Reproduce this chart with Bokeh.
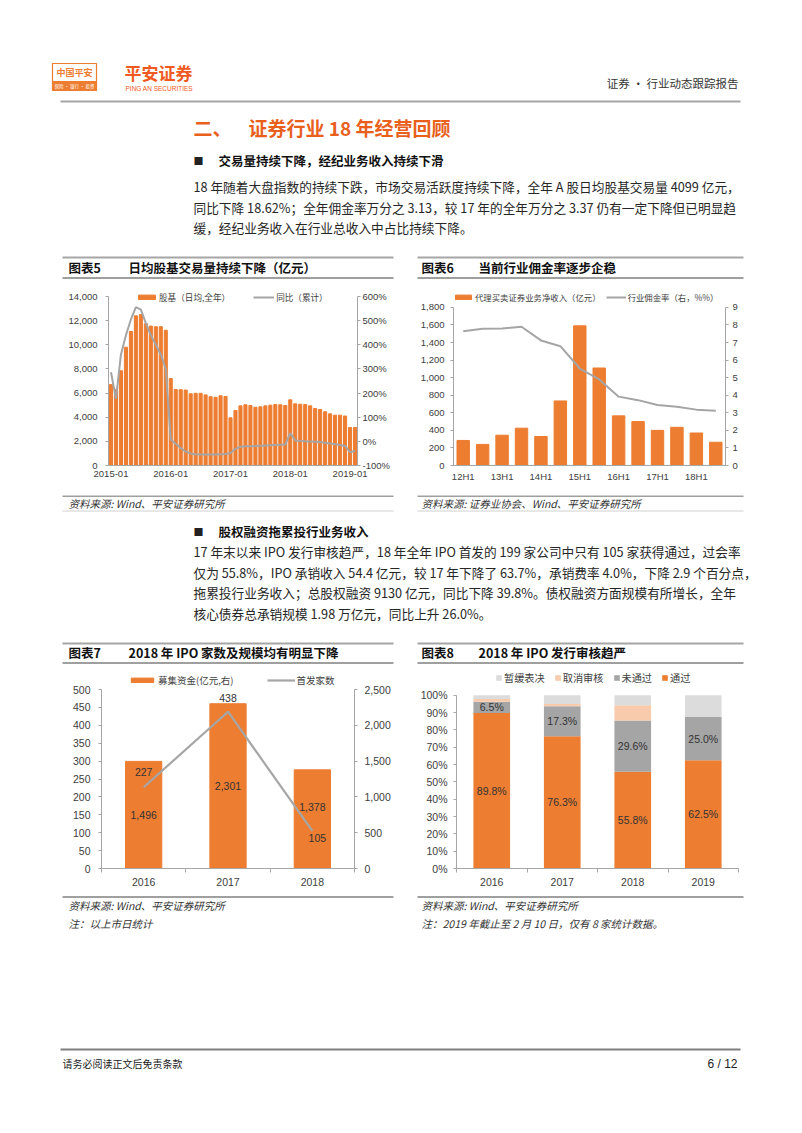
from bokeh.plotting import figure
from bokeh.models import (Range1d, LinearAxis, FixedTicker, NumeralTickFormatter,
                          PrintfTickFormatter, Legend, LegendItem, Spacer, ColumnDataSource)
from bokeh.layouts import column, row
from bokeh.core.properties import value
from bokeh.embed import file_html
from bokeh.resources import INLINE

CJK = "Noto Sans CJK SC"
LAT = "Liberation Sans"
ORANGE = "#ED7D31"
GRAY = "#A5A5A5"
TITLE_OR = "#E8601C"
TXT = "#262626"
PAGE_W = 800

# ---------------- Chart 5 data (monthly, YTD daily avg) ----------------
months = [f"{y}-{m:02d}" for y in range(2015, 2020) for m in range(1, 13)][:50]
vol = [6700, 6300, 7850, 9800, 11100, 12400, 12500, 11750, 11550, 11500, 11500, 11200,
       7200, 6300, 6280, 6250, 5940, 5980, 5980, 5850, 5700, 5650, 5780, 5720,
       3950, 4560, 4940, 5030, 4970, 4830, 4860, 4940, 5000, 5050, 5030, 4970,
       5440, 5110, 5080, 5050, 4940, 4720, 4640, 4450, 4280, 4170, 4170, 4099,
       3150, 3150]
yoy = [286, 176, 360, 440, 505, 556, 546, 490, 440, 400, 360, 300,
       8, -10, -28, -42, -50, -53, -54, -54, -54, -54, -53, -52,
       -48, -31, -22, -20, -20, -19, -18, -17, -16, -15, -14, -13,
       34, 4, 2, 0, -1, -2, -3, -6, -9, -12, -15, -19,
       -45, -40]
month_ticks = [0, 12, 24, 36, 48]

# ---------------- Chart 6 data ----------------
halves = ["12H1", "12H2", "13H1", "13H2", "14H1", "14H2", "15H1", "15H2",
          "16H1", "16H2", "17H1", "17H2", "18H1", "18H2"]
brokerage = [285, 240, 345, 425, 330, 735, 1590, 1110, 565, 500, 400, 435, 370, 265]
comm_rate = [7.64, 7.78, 7.8, 7.9, 7.12, 6.79, 5.52, 4.9, 3.92, 3.72, 3.44, 3.35, 3.18, 3.11]

# ---------------- Chart 7 data ----------------
ipo_years = ["2016", "2017", "2018"]
ipo_capital = [1496, 2301, 1378]
ipo_count = [227, 438, 105]

# ---------------- Chart 8 data ----------------
rev_years = ["2016", "2017", "2018", "2019"]
passed = [89.8, 76.3, 55.8, 62.5]
failed = [6.5, 17.3, 29.6, 25.0]
cancelled = [1.5, 1.4, 8.9, 0.0]
postponed = [2.2, 5.0, 5.7, 12.5]


def style_axis(ax, size):
    ax.axis_line_color = "#A6A6A6"
    ax.major_tick_line_color = "#A6A6A6"
    ax.major_tick_out = 3
    ax.major_tick_in = 0
    ax.minor_tick_line_color = None
    ax.major_label_text_font = LAT
    ax.major_label_text_font_size = f"{size}px"
    ax.major_label_text_color = "#404040"


def style_xaxis(ax):
    ax.major_tick_line_color = None
    ax.major_tick_out = 0
    ax.major_label_standoff = 5


def base_fig(w, h, xr, yr, l, r, t, b):
    p = figure(width=w, height=h, x_range=xr, y_range=yr, toolbar_location=None,
               output_backend="svg", min_border_left=l, min_border_right=r,
               min_border_top=t, min_border_bottom=b)
    p.grid.visible = False
    p.outline_line_color = None
    p.background_fill_color = "white"
    p.border_fill_color = "white"
    return p


def ext(lo, hi, data_px, frame_px):
    # range end so that the [lo, hi] data span fills data_px of a frame_px tall frame
    return lo + (hi - lo) * frame_px / data_px


def text_fig(y0, y1):
    p = figure(width=PAGE_W, height=y1 - y0, x_range=Range1d(0, PAGE_W), y_range=Range1d(y1, y0),
               x_axis_type=None, y_axis_type=None, toolbar_location=None,
               output_backend="svg", min_border=0)
    p.outline_line_color = None
    p.grid.visible = False
    return p


def txt(p, x, y, s, size, color=TXT, bold=False, align="left", font=CJK, italic=False):
    style = "bold" if bold else ("italic" if italic else "normal")
    p.text(x=[x], y=[y], text=[s], text_font=value(font), text_font_size=f"{size}px",
           text_color=color, text_font_style=style, text_align=align, text_baseline="middle")


def hline(p, x0, x1, y, color, w):
    p.segment(x0=[x0], y0=[y], x1=[x1], y1=[y], line_color=color, line_width=w)


def legend_style(lg, size):
    lg.orientation = "horizontal"
    lg.padding = 0
    lg.margin = 0
    lg.border_line_color = None
    lg.background_fill_alpha = 0
    lg.label_text_font = CJK
    lg.label_text_font_size = f"{size}px"
    lg.label_text_color = "#404040"
    lg.label_height = 12
    lg.label_standoff = 2
    lg.glyph_height = 6
    lg.glyph_width = 21


# ======================= Band A (header, text) =======================
A0, A1 = 0, 283
pa = text_fig(A0, A1)
pa.quad(left=[52], right=[96], top=[63], bottom=[90], fill_color="white", line_color=ORANGE, line_width=1.2)
pa.quad(left=[52], right=[96], top=[81], bottom=[90], fill_color=ORANGE, line_color=ORANGE)
txt(pa, 74, 72, "中国平安", 9, ORANGE, bold=True, align="center")
txt(pa, 74, 85.5, "保险 · 银行 · 投资", 4.5, "white", align="center")
txt(pa, 124, 72, "平安证券", 17, "#F05A22", bold=True)
txt(pa, 125, 88, "PING AN SECURITIES", 6.5, "#F05A22", font=LAT)
txt(pa, 738, 82, "证券 · 行业动态跟踪报告", 11.5, "#333333", align="right")
hline(pa, 60, 740, 101, "#A6A6A6", 2)
txt(pa, 193, 127, "二、", 19, TITLE_OR, bold=True)
txt(pa, 248, 127, "证券行业 18 年经营回顾", 19, TITLE_OR, bold=True)
txt(pa, 193, 160, "■", 10, "#222222")
txt(pa, 218, 160, "交易量持续下降，经纪业务收入持续下滑", 12.5, "#111111", bold=True)
para1 = ["18 年随着大盘指数的持续下跌，市场交易活跃度持续下降，全年 A 股日均股基交易量 4099 亿元，",
         "同比下降 18.62%；全年佣金率万分之 3.13，较 17 年的全年万分之 3.37 仍有一定下降但已明显趋",
         "缓，经纪业务收入在行业总收入中占比持续下降。"]
for i, s in enumerate(para1):
    txt(pa, 193, 186 + i * 20.5, s, 12.7, TXT)
for x0, x1 in [(62, 393), (417, 743)]:
    hline(pa, x0, x1, 257, "#A6A6A6", 2)
    hline(pa, x0, x1, 277.5, "#7F7F7F", 1.5)
txt(pa, 68, 267, "图表5", 12.5, "#111111", bold=True)
txt(pa, 128, 267, "日均股基交易量持续下降（亿元）", 12.5, "#111111", bold=True)
txt(pa, 421, 267, "图表6", 12.5, "#111111", bold=True)
txt(pa, 478, 267, "当前行业佣金率逐步企稳", 12.5, "#111111", bold=True)

# ======================= Band B (charts 5 & 6) =======================
B0, B1 = 283, 495
# chart 5: data area 296..465; frame extended up to 288 to hold the legend
idx5 = list(range(len(months)))
p5 = base_fig(331, B1 - B0, Range1d(-0.5, len(months) - 0.5),
              Range1d(0, ext(0, 14000, 169, 177)), 46, 36, 5, B1 - 465)
p5.extra_y_ranges = {"pct": Range1d(-100, ext(-100, 600, 169, 177))}
r5b = p5.vbar(x=idx5, top=vol, width=0.62, color=ORANGE)
r5l = p5.line(x=idx5, y=yoy, y_range_name="pct", line_color=GRAY, line_width=2)
p5.yaxis.ticker = FixedTicker(ticks=list(range(0, 14001, 2000)))
p5.yaxis.formatter = NumeralTickFormatter(format="0,0")
p5.yaxis.bounds = (0, 14000)
ax5r = LinearAxis(y_range_name="pct", ticker=FixedTicker(ticks=list(range(-100, 601, 100))),
                  formatter=PrintfTickFormatter(format="%d%%"), bounds=(-100, 600))
p5.add_layout(ax5r, "right")
p5.xaxis.ticker = FixedTicker(ticks=month_ticks)
p5.xaxis.major_label_overrides = {i: months[i] for i in month_ticks}
for ax in p5.axis:
    style_axis(ax, 9.5)
style_xaxis(p5.xaxis[0])
p5.yaxis[0].major_label_standoff = 8
ax5r.major_label_standoff = 2
lg5 = Legend(items=[LegendItem(label="股基（日均,全年）", renderers=[r5b]),
                    LegendItem(label="同比（累计）", renderers=[r5l])], location=(28, 162))
legend_style(lg5, 8.6)
lg5.spacing = 23
p5.add_layout(lg5, "center")

# chart 6: frame 288..466, data area 307..466
idx6 = list(range(len(halves)))
p6 = base_fig(326, B1 - B0, Range1d(-0.5, len(halves) - 0.5),
              Range1d(0, ext(0, 1800, 159, 178)), 35, 18, 5, B1 - 466)
p6.extra_y_ranges = {"rate": Range1d(0, ext(0, 9, 159, 178))}
r6b = p6.vbar(x=idx6, top=brokerage, width=0.64, color=ORANGE)
r6l = p6.line(x=idx6, y=comm_rate, y_range_name="rate", line_color=GRAY, line_width=2)
p6.yaxis.ticker = FixedTicker(ticks=list(range(0, 1801, 200)))
p6.yaxis.formatter = NumeralTickFormatter(format="0,0")
p6.yaxis.bounds = (0, 1800)
ax6r = LinearAxis(y_range_name="rate", ticker=FixedTicker(ticks=list(range(0, 10))), bounds=(0, 9))
p6.add_layout(ax6r, "right")
p6.xaxis.ticker = FixedTicker(ticks=idx6[::2])
p6.xaxis.major_label_overrides = {i: halves[i] for i in idx6[::2]}
for ax in p6.axis:
    style_axis(ax, 9.5)
style_xaxis(p6.xaxis[0])
p6.yaxis[0].major_label_standoff = 6
ax6r.major_label_standoff = 4
lg6 = Legend(items=[LegendItem(label="代理买卖证券业务净收入（亿元）", renderers=[r6b]),
                    LegendItem(label="行业佣金率（右，%%）", renderers=[r6l])], location=(0, 162))
legend_style(lg6, 8.4)
lg6.glyph_width = 20
lg6.spacing = 5
p6.add_layout(lg6, "center")

band_b = row(Spacer(width=62, height=B1 - B0), p5, Spacer(width=24, height=B1 - B0), p6,
             Spacer(width=PAGE_W - 743, height=B1 - B0))

# ======================= Band C (text) =======================
C0, C1 = 495, 665
pc = text_fig(C0, C1)
for x0, x1 in [(62, 393), (417, 743)]:
    hline(pc, x0, x1, 495.5, "#404040", 1)
    hline(pc, x0, x1, 510.5, "#D0D0D0", 1)
txt(pc, 68, 503, "资料来源: Wind、平安证券研究所", 10.5, "#333333", italic=True)
txt(pc, 421, 503, "资料来源: 证券业协会、Wind、平安证券研究所", 10.5, "#333333", italic=True)
txt(pc, 193, 531, "■", 10, "#222222")
txt(pc, 218, 531, "股权融资拖累投行业务收入", 12.5, "#111111", bold=True)
para2 = ["17 年末以来 IPO 发行审核趋严，18 年全年 IPO 首发的 199 家公司中只有 105 家获得通过，过会率",
         "仅为 55.8%，IPO 承销收入 54.4 亿元，较 17 年下降了 63.7%，承销费率 4.0%，下降 2.9 个百分点，",
         "拖累投行业务收入；总股权融资 9130 亿元，同比下降 39.8%。债权融资方面规模有所增长，全年",
         "核心债券总承销规模 1.98 万亿元，同比上升 26.0%。"]
for i, s in enumerate(para2):
    txt(pc, 193, 551 + i * 20.5, s, 12.7, TXT)
for x0, x1 in [(62, 393), (417, 743)]:
    hline(pc, x0, x1, 643, "#A6A6A6", 2)
    hline(pc, x0, x1, 662.5, "#7F7F7F", 1.5)
txt(pc, 68, 652, "图表7", 12.5, "#111111", bold=True)
txt(pc, 128, 652, "2018 年 IPO 家数及规模均有明显下降", 12.5, "#111111", bold=True)
txt(pc, 421, 652, "图表8", 12.5, "#111111", bold=True)
txt(pc, 478, 652, "2018 年 IPO 发行审核趋严", 12.5, "#111111", bold=True)

# ======================= Band D (charts 7 & 8) =======================
D0, D1 = 665, 895
# chart 7: data area 689..868; frame extended up to 671
idx7 = [i + 1 for i in range(len(ipo_years))]
p7 = base_fig(331, D1 - D0, Range1d(0.5, len(ipo_years) + 0.5),
              Range1d(0, ext(0, 500, 179, 197)), 39, 38, 6, D1 - 868)
p7.extra_y_ranges = {"cap": Range1d(0, ext(0, 2500, 179, 197))}
r7b = p7.vbar(x=idx7, top=ipo_capital, width=0.43, color=ORANGE, y_range_name="cap")
r7l = p7.line(x=idx7, y=ipo_count, line_color="#A6A6A6", line_width=2.2)
src7b = ColumnDataSource(dict(x=idx7, y=[v / 2 for v in ipo_capital],
                              t=[f"{v:,}" for v in ipo_capital], dy=[0, 0, -12]))
p7.text(x="x", y="y", text="t", source=src7b, y_range_name="cap", y_offset="dy",
        text_font=value(LAT), text_font_size="10.5px", text_color="#333333",
        text_align="center", text_baseline="middle")
src7l = ColumnDataSource(dict(x=idx7, y=ipo_count, t=[str(v) for v in ipo_count],
                              dx=[0, 0, 5], dy=[-15, -14, 7]))
p7.text(x="x", y="y", text="t", source=src7l, x_offset="dx", y_offset="dy",
        text_font=value(LAT), text_font_size="10.5px", text_color="#333333",
        text_align="center", text_baseline="middle")
p7.yaxis.ticker = FixedTicker(ticks=list(range(0, 501, 50)))
p7.yaxis.bounds = (0, 500)
ax7r = LinearAxis(y_range_name="cap", ticker=FixedTicker(ticks=list(range(0, 2501, 500))),
                  formatter=NumeralTickFormatter(format="0,0"), bounds=(0, 2500))
p7.add_layout(ax7r, "right")
p7.xaxis.ticker = FixedTicker(ticks=idx7, minor_ticks=[i + 0.5 for i in range(len(ipo_years) + 1)])
p7.xaxis.major_label_overrides = {i: ipo_years[i - 1] for i in idx7}
for ax in p7.axis:
    style_axis(ax, 10.5)
style_xaxis(p7.xaxis[0])
p7.xaxis.minor_tick_line_color = "#A6A6A6"
p7.xaxis.minor_tick_out = 4
p7.xaxis.minor_tick_in = 0
p7.yaxis[0].major_label_standoff = 8
ax7r.major_label_standoff = 7
lg7 = Legend(items=[LegendItem(label="募集资金(亿元,右)", renderers=[r7b]),
                    LegendItem(label="首发家数", renderers=[r7l])], location=(27, 181))
legend_style(lg7, 9.5)
lg7.glyph_width = 28
lg7.spacing = 33
p7.add_layout(lg7, "center")

# chart 8: data area 695..870; frame extended up to 671
idx8 = [i + 1 for i in range(len(rev_years))]
p8 = base_fig(326, D1 - D0, Range1d(0.5, len(rev_years) + 0.5),
              Range1d(0, ext(0, 100, 175, 199)), 36, 5, 6, D1 - 870)
src8 = ColumnDataSource(dict(x=idx8, passed=passed, failed=failed, cancelled=cancelled,
                             postponed=postponed))
rs8 = p8.vbar_stack(["passed", "failed", "cancelled", "postponed"], x="x", width=0.52,
                    source=src8, color=[ORANGE, GRAY, "#F8CBAD", "#DCDCDC"], line_color=None)
src8l = ColumnDataSource(dict(
    x=idx8 + idx8,
    y=[v / 2 for v in passed] + [p + f / 2 for p, f in zip(passed, failed)],
    t=[f"{v:.1f}%" for v in passed] + [f"{v:.1f}%" for v in failed]))
p8.text(x="x", y="y", text="t", source=src8l, text_font=value(LAT), text_font_size="10.5px",
        text_color="#333333", text_align="center", text_baseline="middle")
p8.yaxis.ticker = FixedTicker(ticks=list(range(0, 101, 10)))
p8.yaxis.formatter = PrintfTickFormatter(format="%d%%")
p8.yaxis.bounds = (0, 100)
p8.xaxis.ticker = FixedTicker(ticks=idx8, minor_ticks=[i + 0.5 for i in range(len(rev_years) + 1)])
p8.xaxis.major_label_overrides = {i: rev_years[i - 1] for i in idx8}
for ax in p8.axis:
    style_axis(ax, 10.5)
style_xaxis(p8.xaxis[0])
p8.xaxis.minor_tick_line_color = "#A6A6A6"
p8.xaxis.minor_tick_out = 4
p8.xaxis.minor_tick_in = 0
p8.yaxis.major_label_standoff = 6
lg8 = Legend(items=[LegendItem(label="暂缓表决", renderers=[rs8[3]]),
                    LegendItem(label="取消审核", renderers=[rs8[2]]),
                    LegendItem(label="未通过", renderers=[rs8[1]]),
                    LegendItem(label="通过", renderers=[rs8[0]])], location=(39, 183))
legend_style(lg8, 10.2)
lg8.glyph_width = 7
lg8.glyph_height = 7
lg8.spacing = 9
p8.add_layout(lg8, "center")

band_d = row(Spacer(width=62, height=D1 - D0), p7, Spacer(width=24, height=D1 - D0), p8,
             Spacer(width=PAGE_W - 743, height=D1 - D0))

# ======================= Band E (text) =======================
E0, E1 = 895, 1125
pe = text_fig(E0, E1)
for x0, x1 in [(62, 393), (417, 743)]:
    hline(pe, x0, x1, 896.5, "#404040", 1)
txt(pe, 68, 905, "资料来源: Wind、平安证券研究所", 10.5, "#333333", italic=True)
txt(pe, 68, 923, "注：以上市日统计", 10.5, "#333333", italic=True)
txt(pe, 421, 905, "资料来源: Wind、平安证券研究所", 10.5, "#333333", italic=True)
txt(pe, 421, 923, "注：2019 年截止至 2 月 10 日，仅有 8 家统计数据。", 10.5, "#333333", italic=True)
hline(pe, 60, 740, 1049, "#7F7F7F", 2)
txt(pe, 62, 1063, "请务必阅读正文后免责条款", 10, "#222222")
txt(pe, 737, 1063, "6 / 12", 12, "#222222", align="right", font=LAT)

page = column(pa, band_b, pc, band_d, pe, spacing=0)

open("out.html", "w").write(file_html(page, INLINE))
